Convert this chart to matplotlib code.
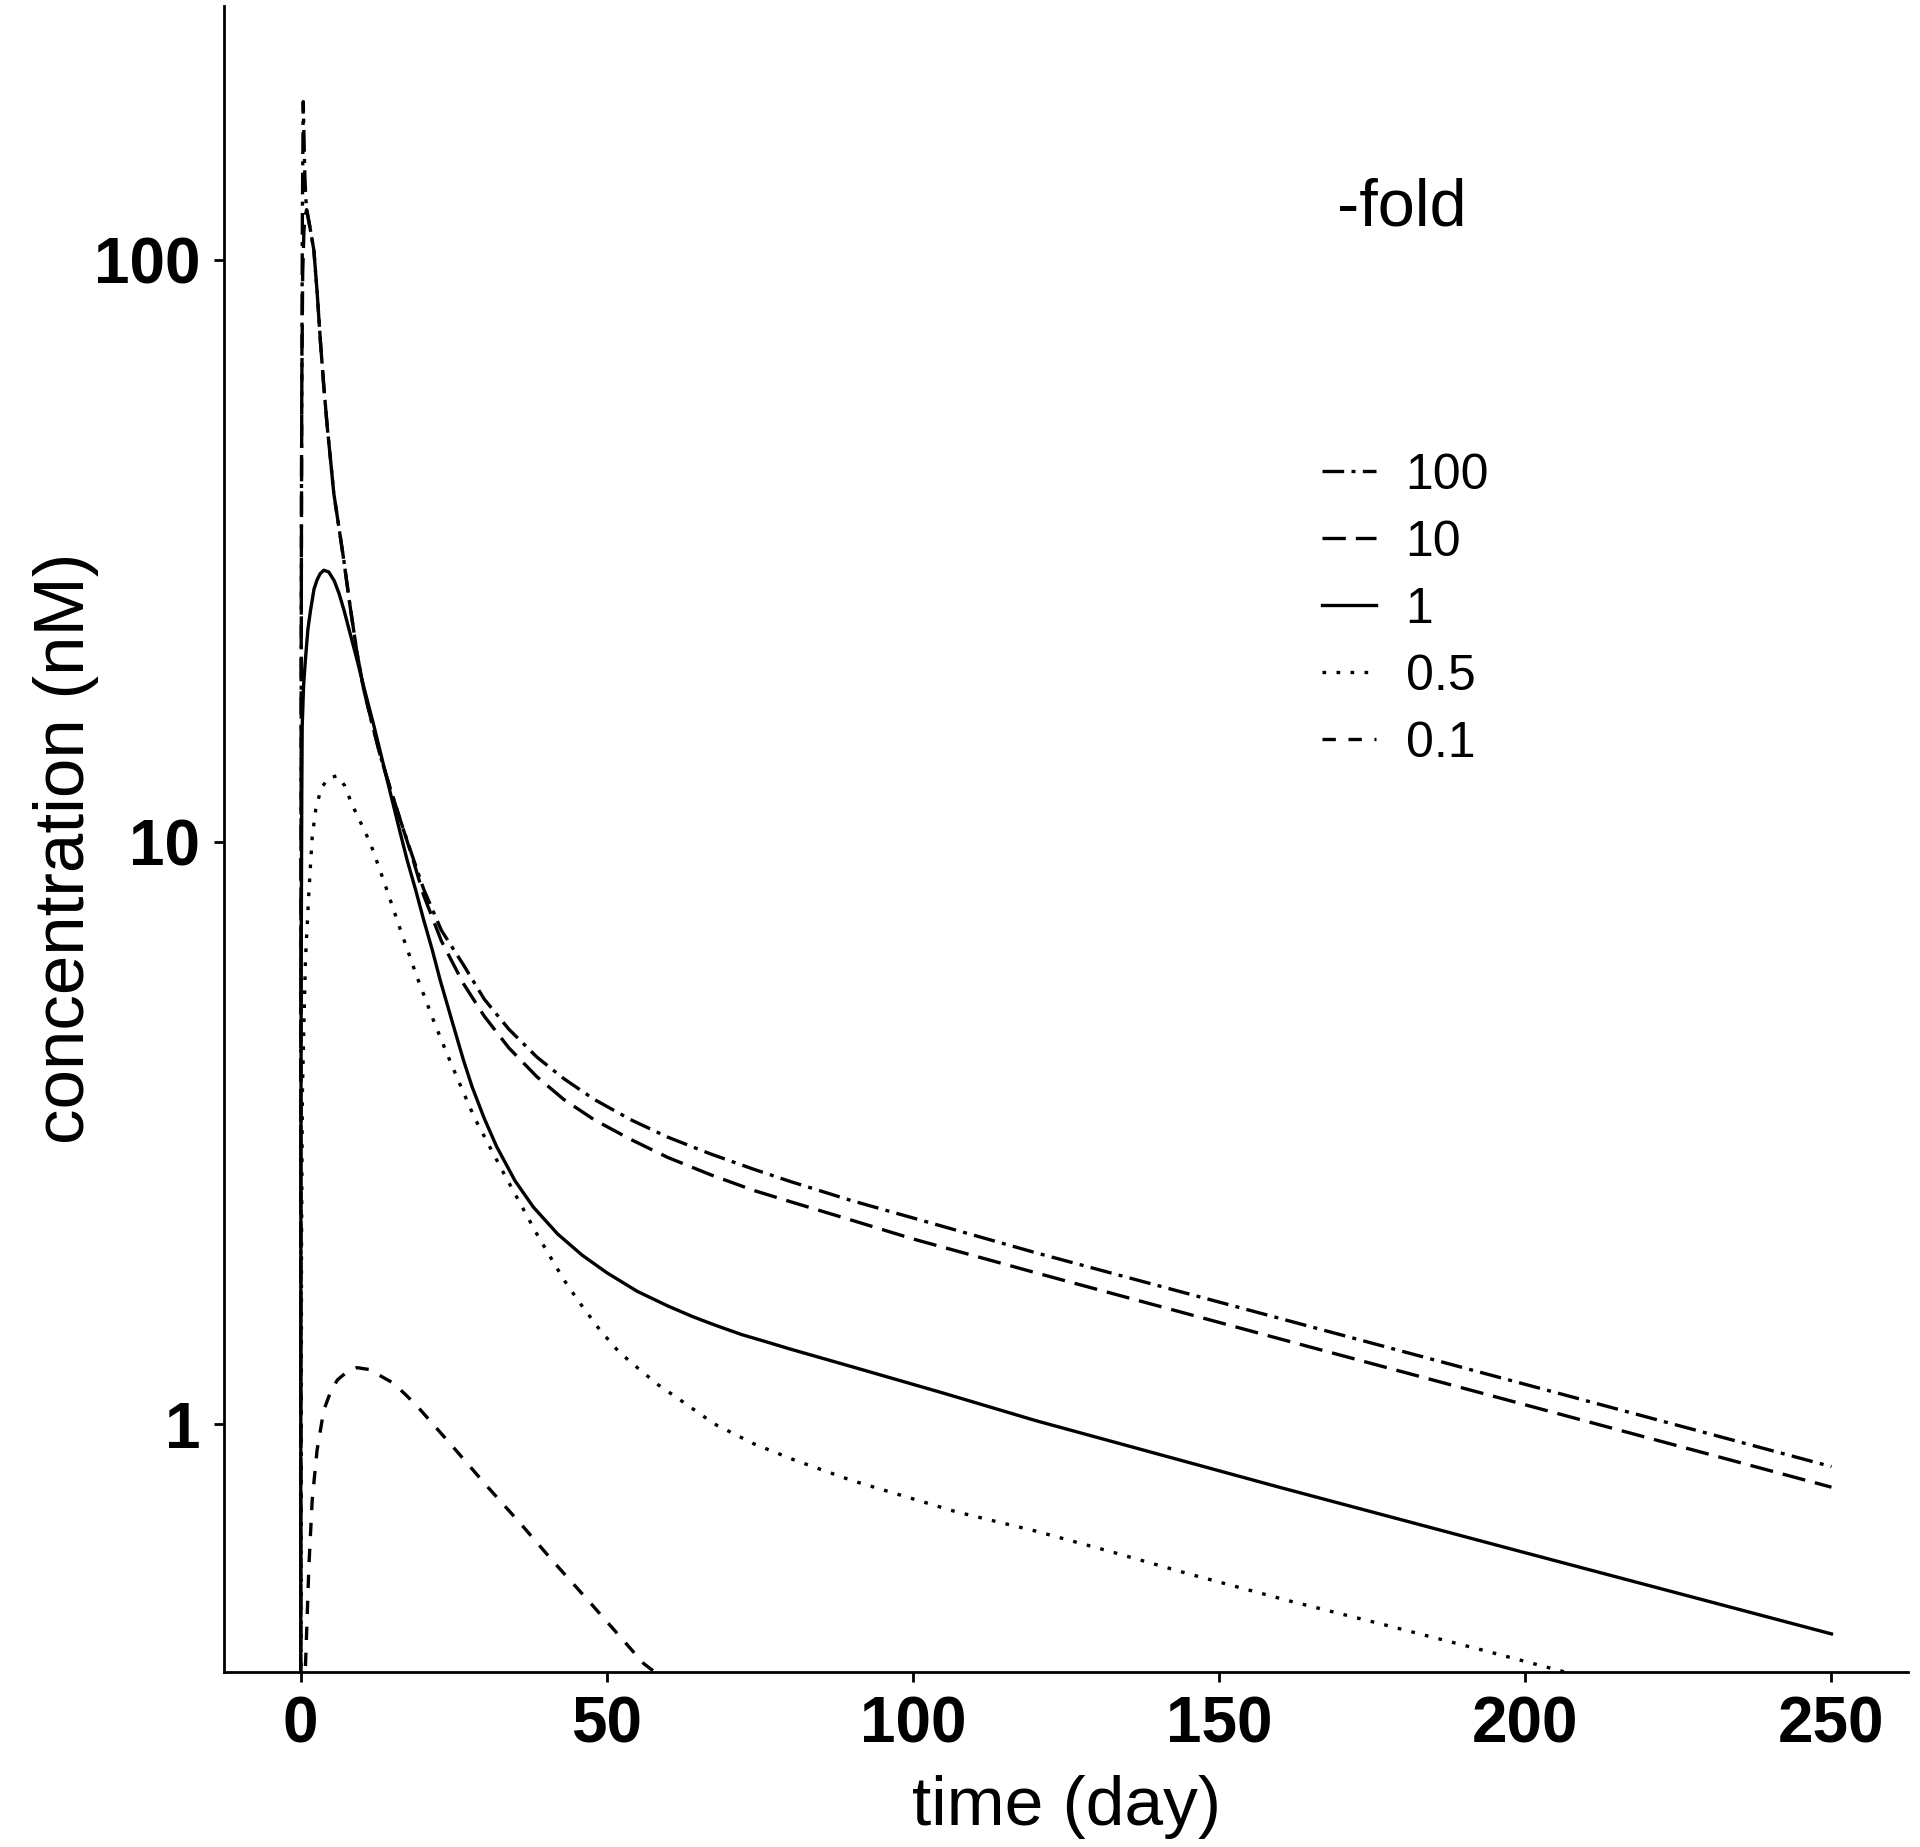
import matplotlib
matplotlib.use("Agg")
import matplotlib.pyplot as plt

plt.rcParams["font.family"] = ["Liberation Sans", "DejaVu Sans"]

# concentration-time profiles (nM), one per -fold level
t100 = [0, 0.05, 0.15, 0.3, 0.44, 0.55, 0.7, 0.85, 1.0, 1.52, 2.17, 2.72, 3.26, 3.8,
        4.35, 4.9, 5.43, 6.25, 7.06, 8.0, 9.2, 10.3, 11.6, 13.0, 14.6, 16.3, 18.2, 20.1,
        23, 26.6, 30, 34, 38.6, 43, 48, 54, 60, 67, 74, 80, 90, 100, 120, 160, 200, 250]
c100 = [0.05, 5, 40, 120, 187, 165, 140, 128, 122, 114, 104, 87.7, 72, 60.6,
        51.8, 45.3, 39.7, 34.8, 30.5, 25.8, 21.2, 18.3, 16.1, 14.1, 12.4, 10.9, 9.5, 8.3,
        7.05, 6.15, 5.37, 4.77, 4.27, 3.92, 3.61, 3.33, 3.11, 2.91, 2.74, 2.61, 2.42, 2.26,
        1.97, 1.518, 1.17, 0.845]

t10 = [0, 0.05, 0.1, 0.2, 0.35, 0.55, 0.75, 1.0, 1.52, 2.17, 2.72, 3.26, 3.8, 4.35,
       4.9, 5.43, 6.25, 7.06, 8.0, 9.2, 10.3, 11.6, 13.0, 14.6, 16.3, 18.2, 20.1, 23,
       26.6, 30, 34, 38.6, 43, 48, 54, 60, 67, 74, 80, 90, 100, 120, 160, 200, 250]
c10 = [0.05, 5, 20, 60, 95, 112, 119, 122, 114, 104, 87.7, 72, 60.6, 51.8,
       45.3, 39.7, 34.8, 30.5, 25.8, 21.2, 18.3, 16.1, 14.1, 12.4, 10.9, 9.45, 8.1, 6.76,
       5.71, 5.02, 4.43, 3.95, 3.61, 3.33, 3.08, 2.87, 2.68, 2.52, 2.41, 2.24, 2.08, 1.82,
       1.40, 1.079, 0.779]

t1 = [0, 0.05, 0.1, 0.2, 0.27, 0.5, 0.8, 1.2, 1.63, 2.2, 2.7, 3.2, 3.8, 4.6, 5.5, 6.3,
      7.1, 8.1, 9.2, 10.6, 12.0, 13.3, 14.7, 16.0, 17.4, 18.8, 20.1, 21.5, 22.8, 24.7,
      26.6, 28, 30, 32, 35, 38, 42, 46, 50, 55, 60, 64, 67.6, 72, 76, 80, 90, 105, 120,
      160, 200, 250]
c1 = [0.05, 2, 6, 12, 15.8, 18.6, 20.6, 23.2, 25.0, 27.2, 28.2, 28.9, 29.3, 29.1, 28.1,
      26.7, 25.0, 22.8, 20.6, 18.0, 15.8, 13.9, 12.1, 10.65, 9.31, 8.27, 7.35, 6.53, 5.79,
      4.94, 4.22, 3.80, 3.35, 3.0, 2.62, 2.36, 2.12, 1.95, 1.82, 1.69, 1.595, 1.53, 1.48,
      1.425, 1.385, 1.345, 1.255, 1.13, 1.014, 0.778, 0.601, 0.436]

t05 = [0, 0.15, 0.3, 0.54, 0.8, 1.35, 1.9, 2.5, 3.3, 4.4, 6.0, 7.2, 8.4, 9.9, 11.4,
       12.8, 14.1, 16.3, 19.0, 21.7, 23.9, 26, 28.4, 31, 33.4, 36, 38.6, 41, 43, 45.5,
       48.9, 52, 55, 58.3, 62, 67.6, 74, 80.7, 90, 107, 120, 132, 145, 161.4, 177, 193,
       215]
c05 = [0.05, 2, 3.7, 4.82, 6.27, 8.16, 10.2, 11.4, 12.3, 12.85, 13.0, 12.5, 11.6, 10.75,
       9.95, 9.05, 8.27, 7.07, 5.87, 4.94, 4.33, 3.84, 3.36, 2.98, 2.67, 2.38, 2.12, 1.92,
       1.77, 1.62, 1.45, 1.33, 1.25, 1.17, 1.10, 1.0, 0.925, 0.867, 0.80, 0.707, 0.655,
       0.605, 0.553, 0.497, 0.452, 0.409, 0.355]

t01 = [0, 0.4, 0.8, 1.36, 1.9, 2.7, 3.8, 4.9, 6.0, 7.6, 9.2, 11.4, 13.05, 15.2, 17.4,
       19.6, 25.0, 30.4, 35.9, 41.3, 46.8, 52.2, 56, 62]
c01 = [0.01, 0.2, 0.383, 0.569, 0.740, 0.902, 1.057, 1.135, 1.19, 1.23, 1.25, 1.24,
       1.21, 1.175, 1.117, 1.057, 0.911, 0.783, 0.675, 0.580, 0.500, 0.431, 0.388, 0.347]

fold_labels = ["100", "10", "1", "0.5", "0.1"]
x_ticks = [0, 50, 100, 150, 200, 250]
y_ticks = [1, 10, 100]

series = [(t100, c100), (t10, c10), (t1, c1), (t05, c05), (t01, c01)]
styles = [
    (0, (6.5, 2.2, 1.2, 2.2)),  # dotdash
    (0, (7, 3)),                # longdash
    "solid",
    (0, (1.1, 3.1)),            # dotted
    (0, (4, 3.8)),              # dashed
]

fig = plt.figure(figsize=(19.2, 18.47), dpi=100)
ax = fig.add_axes([224 / 1920, 1 - 1672 / 1847, 1684 / 1920, 1666 / 1847])

for (t, c), ls, lab in zip(series, styles, fold_labels):
    ax.plot(t, c, color="black", lw=2.4, linestyle=ls, label=lab)

ax.set_yscale("log")
ax.set_xlim(-12.5, 262.5)
ax.set_ylim(0.375, 273)
ax.set_xticks(x_ticks)
ax.set_xticklabels([str(v) for v in x_ticks])
ax.set_yticks(y_ticks)
ax.set_yticklabels([str(v) for v in y_ticks])
ax.yaxis.set_minor_locator(matplotlib.ticker.NullLocator())

for side in ["top", "right"]:
    ax.spines[side].set_visible(False)
for side in ["left", "bottom"]:
    ax.spines[side].set_linewidth(2)

ax.tick_params(axis="both", which="major", length=7, width=2, labelsize=46, pad=10)
for lbl in ax.get_xticklabels() + ax.get_yticklabels():
    lbl.set_fontweight("bold")

ax.set_xlabel("time (day)", fontsize=50)
ax.set_ylabel("concentration (nM)", fontsize=51)
ax.xaxis.set_label_coords(0.5, -0.062)
ax.yaxis.set_label_coords(-0.074, 0.4946)

leg = ax.legend(loc="upper left", bbox_to_anchor=(1322 / 1920, 0.7549),
                bbox_transform=fig.transFigure, frameon=False, fontsize=36,
                handlelength=1.07, handletextpad=0.6, labelspacing=0.42,
                borderpad=0, borderaxespad=0)
fig.text(1337 / 1920, 1 - 226 / 1847, "-fold", fontsize=48, ha="left", va="baseline")

fig.savefig("out.png", dpi=100)
